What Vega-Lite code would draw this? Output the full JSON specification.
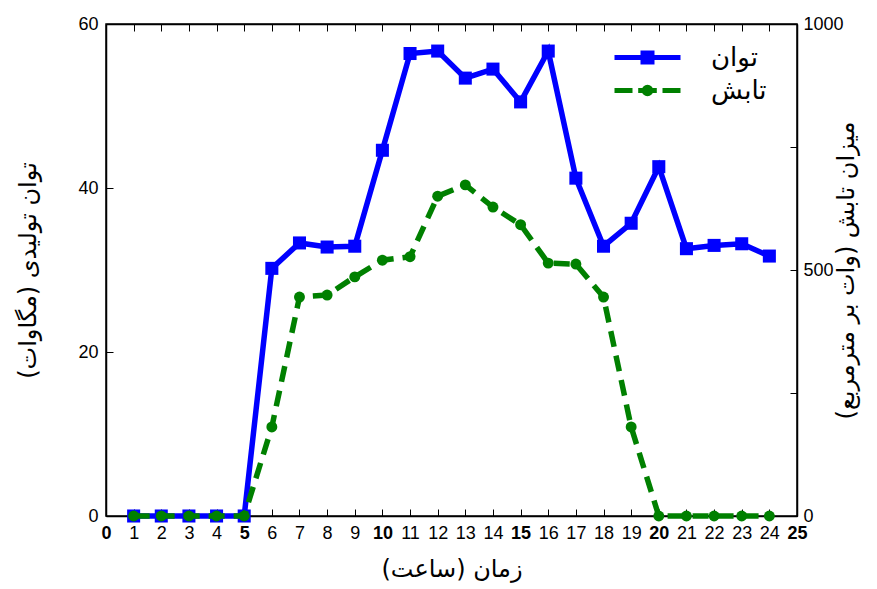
{
  "$schema": "https://vega.github.io/schema/vega-lite/v6.json",
  "width": 691,
  "height": 492,
  "autosize": {"type": "none"},
  "padding": {"left": 106, "top": 24, "right": 80, "bottom": 73},
  "background": "white",
  "config": {
    "view": {"stroke": "black", "strokeWidth": 1.5},
    "axis": {
      "labelFont": "Liberation Sans",
      "labelFontSize": 18,
      "labelColor": "black",
      "tickColor": "black",
      "domainColor": "black",
      "domainWidth": 1.5,
      "tickWidth": 1,
      "tickSize": -7,
      "grid": false,
      "titleFont": "DejaVu Sans",
      "titleFontWeight": "normal",
      "titleFontSize": 24,
      "titleColor": "black",
      "labelFlush": false,
      "labelOverlap": false
    }
  },
  "data": {
    "values": [
      {"hour": 1, "power": 0, "irr": 0},
      {"hour": 2, "power": 0, "irr": 0},
      {"hour": 3, "power": 0, "irr": 0},
      {"hour": 4, "power": 0, "irr": 0},
      {"hour": 5, "power": 0, "irr": 0},
      {"hour": 6, "power": 30.2, "irr": 181},
      {"hour": 7, "power": 33.3, "irr": 445},
      {"hour": 8, "power": 32.8, "irr": 449},
      {"hour": 9, "power": 32.9, "irr": 486},
      {"hour": 10, "power": 44.6, "irr": 520},
      {"hour": 11, "power": 56.4, "irr": 527},
      {"hour": 12, "power": 56.7, "irr": 650},
      {"hour": 13, "power": 53.4, "irr": 673},
      {"hour": 14, "power": 54.5, "irr": 628},
      {"hour": 15, "power": 50.5, "irr": 592},
      {"hour": 16, "power": 56.7, "irr": 514},
      {"hour": 17, "power": 41.2, "irr": 512},
      {"hour": 18, "power": 32.9, "irr": 445},
      {"hour": 19, "power": 35.7, "irr": 181},
      {"hour": 20, "power": 42.6, "irr": 0},
      {"hour": 21, "power": 32.6, "irr": 0},
      {"hour": 22, "power": 33.0, "irr": 0},
      {"hour": 23, "power": 33.2, "irr": 0},
      {"hour": 24, "power": 31.7, "irr": 0}
    ]
  },
  "layer": [
    {
      "mark": {"type": "line", "strokeWidth": 5.5, "point": {"shape": "square", "size": 170, "filled": true, "opacity": 1}},
      "encoding": {
        "x": {
          "field": "hour", "type": "quantitative",
          "scale": {"domain": [0, 25], "nice": false},
          "axis": {
            "orient": "bottom",
            "values": [0,1,2,3,4,5,6,7,8,9,10,11,12,13,14,15,16,17,18,19,20,21,22,23,24,25],
            "title": "زمان (ساعت)",
            "labelPadding": 15,
            "titlePadding": 15,
            "labelFontWeight": {"condition": {"test": "datum.value % 5 === 0", "value": "bold"}, "value": "normal"}
          }
        },
        "y": {
          "field": "power", "type": "quantitative",
          "scale": {"domain": [0, 60], "nice": false},
          "axis": {"orient": "left", "values": [0, 20, 40, 60], "title": "توان تولیدی (مگاوات)", "labelPadding": 15, "titlePadding": 37}
        },
        "color": {
          "datum": "توان", "type": "nominal",
          "scale": {"domain": ["توان", "تابش"], "range": ["#0000ff", "#008000"]},
          "legend": {
            "orient": "none",
            "legendX": 524,
            "legendY": 16,
            "title": null,
            "labelFont": "DejaVu Sans",
            "labelFontSize": 26,
            "labelColor": "black",
            "labelOffset": 46,
            "symbolSize": 900,
            "rowPadding": 1,
            "encode": {
              "symbols": {
                "update": {
                  "shape": {"signal": "datum.value === 'توان' ? 'M-2.2,0H2.2M-0.3,-0.3H0.3V0.3H-0.3Z' : 'M-2.2,0H-1M-0.62,0H0.62M1,0H2.2M0.22,0A0.22,0.22,0,1,1,-0.22,0A0.22,0.22,0,1,1,0.22,0'"},
                  "fill": {"signal": "datum.value === 'توان' ? '#0000ff' : '#008000'"},
                  "stroke": {"signal": "datum.value === 'توان' ? '#0000ff' : '#008000'"},
                  "strokeWidth": {"value": 5},
                  "strokeDash": {"value": []},
                  "size": {"value": 900},
                  "opacity": {"value": 1}
                }
              }
            }
          }
        }
      }
    },
    {
      "mark": {"type": "line", "strokeWidth": 5.5, "strokeDash": [16, 9], "point": {"shape": "circle", "size": 120, "filled": true, "opacity": 1}},
      "encoding": {
        "x": {
          "field": "hour", "type": "quantitative",
          "scale": {"domain": [0, 25], "nice": false},
          "axis": {
            "orient": "top",
            "values": [0,1,2,3,4,5,6,7,8,9,10,11,12,13,14,15,16,17,18,19,20,21,22,23,24,25],
            "labels": false,
            "title": null
          }
        },
        "y": {
          "field": "irr", "type": "quantitative",
          "scale": {"domain": [0, 1000], "nice": false},
          "axis": {
            "orient": "right",
            "values": [0, 250, 500, 750, 1000],
            "format": "d",
            "labelExpr": "datum.value % 500 === 0 ? datum.label : ''",
            "title": "میزان تابش (وات بر مترمربع)",
            "titleAngle": -90,
            "labelPadding": 13,
            "titlePadding": 15
          }
        },
        "color": {"datum": "تابش", "type": "nominal"}
      }
    }
  ],
  "resolve": {"scale": {"y": "independent"}, "axis": {"x": "independent"}}
}
